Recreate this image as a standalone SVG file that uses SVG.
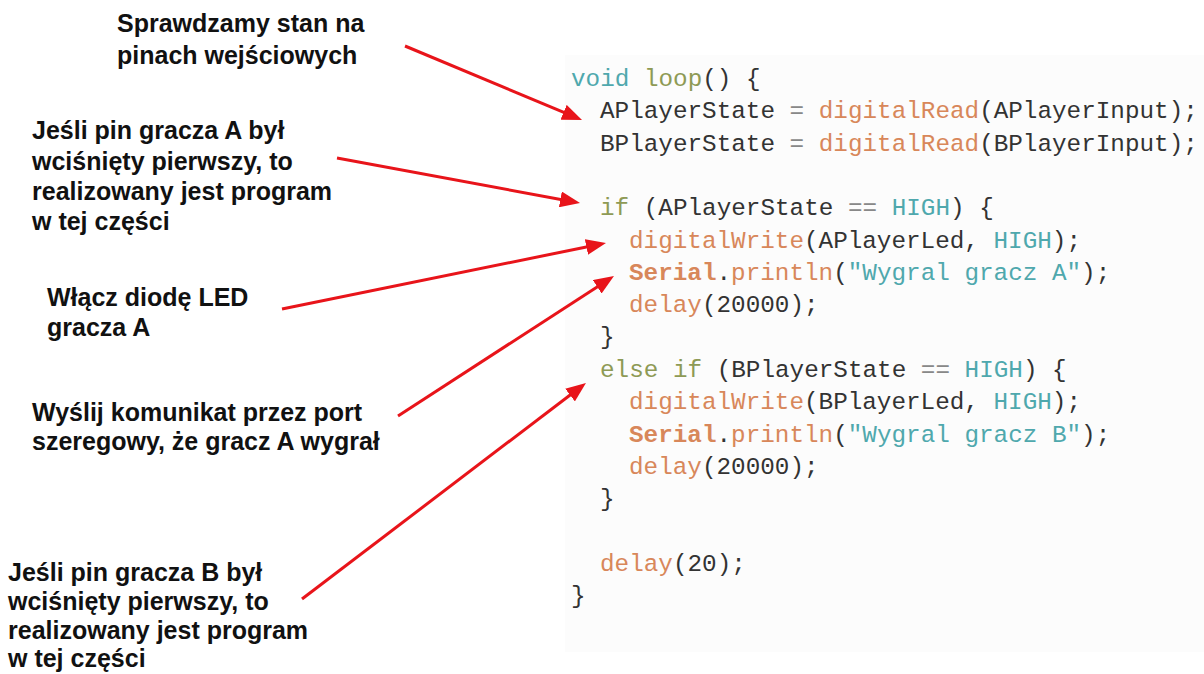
<svg xmlns="http://www.w3.org/2000/svg" width="1204" height="674" viewBox="0 0 1204 674">
<style>
.lbl{font-family:"Liberation Sans",Arial,sans-serif;font-weight:bold;font-size:25px;fill:#111}
.code{font-family:"Liberation Mono","Courier New",monospace;font-size:24.3px;fill:#333;white-space:pre}
.kw{fill:#4fa8ad}
.ol{fill:#8e9a55}
.fn{fill:#d8875a}
.op{fill:#888}
.arr{stroke:#e8141a;stroke-width:3;fill:none;marker-end:url(#ah)}
</style>
<defs>
<marker id="ah" markerUnits="userSpaceOnUse" markerWidth="20" markerHeight="16" refX="10" refY="8" orient="auto" viewBox="0 0 20 16">
<path d="M0,0 L20,8 L0,16 z" fill="#e8141a"/>
</marker>
</defs>
<rect width="1204" height="674" fill="#ffffff"/>
<g id="code-panel">
<rect x="565" y="55" width="639" height="597" fill="#fcfcfc"/>
<text class="code" x="571" y="86"><tspan class="kw">void</tspan> <tspan class="ol">loop</tspan>() {</text>
<text class="code" x="600" y="118">APlayerState <tspan class="op">=</tspan> <tspan class="fn">digitalRead</tspan>(APlayerInput);</text>
<text class="code" x="600" y="151">BPlayerState <tspan class="op">=</tspan> <tspan class="fn">digitalRead</tspan>(BPlayerInput);</text>
<text class="code" x="600" y="215"><tspan class="ol">if</tspan> (APlayerState <tspan class="op">==</tspan> <tspan class="kw">HIGH</tspan>) {</text>
<text class="code" x="629" y="248"><tspan class="fn">digitalWrite</tspan>(APlayerLed, <tspan class="kw">HIGH</tspan>);</text>
<text class="code" x="629" y="280"><tspan class="fn" font-weight="bold">Serial</tspan>.<tspan class="fn">println</tspan>(<tspan class="kw">"Wygral gracz A"</tspan>);</text>
<text class="code" x="629" y="312"><tspan class="fn">delay</tspan>(20000);</text>
<text class="code" x="600" y="344">}</text>
<text class="code" x="600" y="377"><tspan class="ol">else</tspan> <tspan class="ol">if</tspan> (BPlayerState <tspan class="op">==</tspan> <tspan class="kw">HIGH</tspan>) {</text>
<text class="code" x="629" y="409"><tspan class="fn">digitalWrite</tspan>(BPlayerLed, <tspan class="kw">HIGH</tspan>);</text>
<text class="code" x="629" y="442"><tspan class="fn" font-weight="bold">Serial</tspan>.<tspan class="fn">println</tspan>(<tspan class="kw">"Wygral gracz B"</tspan>);</text>
<text class="code" x="629" y="474"><tspan class="fn">delay</tspan>(20000);</text>
<text class="code" x="600" y="506">}</text>
<text class="code" x="600" y="571"><tspan class="fn">delay</tspan>(20);</text>
<text class="code" x="571" y="603">}</text>
</g>
<g id="label-read">
<text class="lbl" x="117" y="32">Sprawdzamy stan na</text>
<text class="lbl" x="117" y="64">pinach wejściowych</text>
</g>
<g id="label-ifA">
<text class="lbl" x="32" y="139">Jeśli pin gracza A był</text>
<text class="lbl" x="32" y="170">wciśnięty pierwszy, to</text>
<text class="lbl" x="32" y="200">realizowany jest program</text>
<text class="lbl" x="32" y="230">w tej części</text>
</g>
<g id="label-led">
<text class="lbl" x="47" y="306">Włącz diodę LED</text>
<text class="lbl" x="47" y="336">gracza A</text>
</g>
<g id="label-serial">
<text class="lbl" x="32" y="421">Wyślij komunikat przez port</text>
<text class="lbl" x="32" y="450">szeregowy, że gracz A wygrał</text>
</g>
<g id="label-ifB">
<text class="lbl" x="8" y="581">Jeśli pin gracza B był</text>
<text class="lbl" x="8" y="610">wciśnięty pierwszy, to</text>
<text class="lbl" x="8" y="639">realizowany jest program</text>
<text class="lbl" x="8" y="667">w tej części</text>
</g>
<g id="connectors">
<line class="arr" x1="405" y1="46" x2="572.8" y2="116.1"/>
<line class="arr" x1="337" y1="158" x2="570.2" y2="201.2"/>
<line class="arr" x1="282" y1="309" x2="596.2" y2="245"/>
<line class="arr" x1="398" y1="416" x2="605.6" y2="281.4"/>
<line class="arr" x1="302" y1="599" x2="578" y2="389"/>
</g>
</svg>
